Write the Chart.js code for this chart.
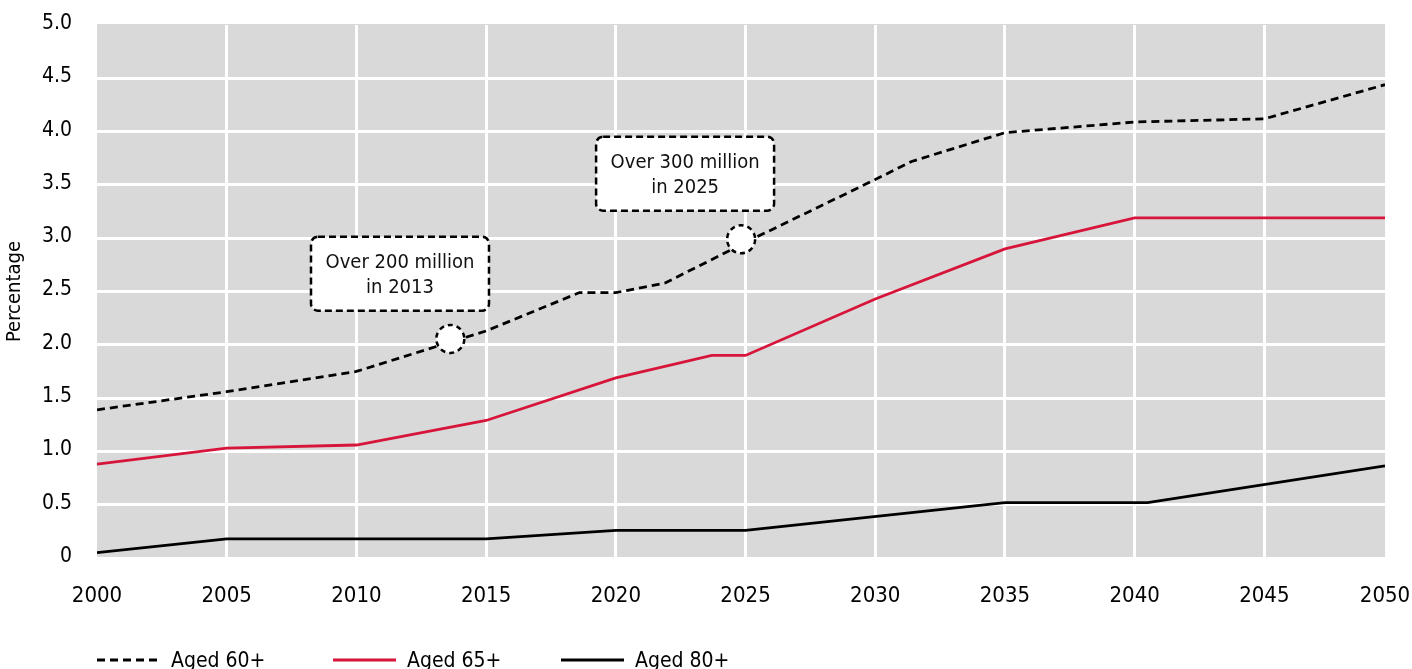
<!DOCTYPE html>
<html>
<head>
<meta charset="utf-8">
<script src="https://cdn.jsdelivr.net/npm/chart.js@4"></script>
<style>
  html, body { margin: 0; padding: 0; background: #fff; }
</style>
</head>
<body>
<canvas id="chart" width="1412" height="669"></canvas>
<script>
const FONT = "'DejaVu Sans Condensed', 'Liberation Sans Narrow', sans-serif";

// series (year, percentage)
const years60 = [2000, 2005, 2010, 2015, 2018.6, 2020, 2021.9, 2025.5, 2030, 2031.4, 2035, 2040, 2045, 2049.65];
const aged60  = [1.39, 1.56, 1.75, 2.13, 2.49, 2.49, 2.58, 3.02, 3.55, 3.72, 3.99, 4.09, 4.12, 4.44];
const years65 = [2000, 2005, 2010, 2015, 2020, 2023.7, 2025, 2030, 2035, 2040, 2049.65];
const aged65  = [0.88, 1.03, 1.06, 1.29, 1.69, 1.9, 1.9, 2.43, 2.9, 3.19, 3.19];
const years80 = [2000, 2005, 2015, 2020, 2025, 2035, 2040.5, 2049.65];
const aged80  = [0.05, 0.18, 0.18, 0.26, 0.26, 0.52, 0.52, 0.865];

const seriesNames = ['Aged 60+', 'Aged 65+', 'Aged 80+'];

const xTicks = [2000, 2005, 2010, 2015, 2020, 2025, 2030, 2035, 2040, 2045, 2049.65];
const xTickLabels = ['2000', '2005', '2010', '2015', '2020', '2025', '2030', '2035', '2040', '2045', '2050'];
const yTicks = [0, 0.5, 1, 1.5, 2, 2.5, 3, 3.5, 4, 4.5, 5];
const yTickLabels = ['0', '0.5', '1.0', '1.5', '2.0', '2.5', '3.0', '3.5', '4.0', '4.5', '5.0'];

// callouts on the 60+ line
const notes = [
  { text: ['Over 200 million', 'in 2013'], x: 2013.62, y: 2.055, boxX: 2011.68, boxY: 2.667 },
  { text: ['Over 300 million', 'in 2025'], x: 2024.83, y: 2.99, boxX: 2022.67, boxY: 3.605 }
];

const pts = (xs, ys) => xs.map((x, i) => ({ x: x, y: ys[i] }));

const plotBg = {
  id: 'plotBg',
  beforeDraw(chart) {
    const { ctx, chartArea: a } = chart;
    ctx.save();
    ctx.fillStyle = '#d9d9d9';
    ctx.fillRect(a.left, a.top - 1, a.right - a.left, a.bottom - a.top);
    ctx.restore();
  }
};

const notesPlugin = {
  id: 'notes',
  afterDatasetsDraw(chart) {
    const { ctx, scales: { x, y } } = chart;
    notes.forEach(n => {
      const cx = x.getPixelForValue(n.x), cy = y.getPixelForValue(n.y);
      ctx.save();
      ctx.lineWidth = 2.5;
      ctx.strokeStyle = '#000';
      ctx.fillStyle = '#fff';
      ctx.setLineDash([5, 4]);
      ctx.beginPath();
      ctx.arc(cx, cy, 14, 0, Math.PI * 2);
      ctx.fill();
      ctx.stroke();

      const bx = x.getPixelForValue(n.boxX), by = y.getPixelForValue(n.boxY);
      const w = 178, h = 74;
      ctx.setLineDash([7, 4]);
      ctx.beginPath();
      ctx.roundRect(bx - w / 2, by - h / 2, w, h, 7);
      ctx.fill();
      ctx.stroke();
      ctx.setLineDash([]);
      ctx.fillStyle = '#111';
      ctx.font = '20px ' + FONT;
      ctx.textAlign = 'center';
      ctx.textBaseline = 'middle';
      n.text.forEach((t, k) => ctx.fillText(t, bx, by - 11 + k * 25));
      ctx.restore();
    });
  }
};

const bottomLegend = {
  id: 'bottomLegend',
  afterDraw(chart) {
    const ctx = chart.ctx;
    const starts = [97, 333, 561];
    chart.data.datasets.forEach((ds, i) => {
      const x = starts[i], y = 660;
      ctx.save();
      ctx.strokeStyle = ds.borderColor;
      ctx.lineWidth = ds.borderWidth;
      ctx.setLineDash(ds.borderDash || []);
      ctx.beginPath();
      ctx.moveTo(x, y);
      ctx.lineTo(x + 63, y);
      ctx.stroke();
      ctx.setLineDash([]);
      ctx.fillStyle = '#000';
      ctx.font = '21px ' + FONT;
      ctx.textBaseline = 'alphabetic';
      ctx.fillText(ds.label, x + 74, 667);
      ctx.restore();
    });
  }
};

const edgeless = (n) => (c) => (c.index === 0 || c.index === n - 1) ? 'rgba(0,0,0,0)' : '#ffffff';

new Chart(document.getElementById('chart'), {
  type: 'line',
  data: {
    datasets: [
      { label: seriesNames[0], data: pts(years60, aged60), borderColor: '#000000', borderWidth: 2.8, borderDash: [8, 5] },
      { label: seriesNames[1], data: pts(years65, aged65), borderColor: '#d7153a', borderWidth: 2.8 },
      { label: seriesNames[2], data: pts(years80, aged80), borderColor: '#000000', borderWidth: 2.8 }
    ]
  },
  options: {
    responsive: false,
    animation: false,
    elements: { point: { radius: 0 }, line: { tension: 0, fill: false } },
    layout: { padding: { top: 25, right: 27, bottom: 0, left: 0 } },
    plugins: { legend: { display: false }, tooltip: { enabled: false } },
    scales: {
      x: {
        type: 'linear',
        min: 2000,
        max: 2049.65,
        afterBuildTicks: s => { s.ticks = xTicks.map(v => ({ value: v })); },
        afterFit: s => { s.height = 111; s.paddingLeft = 0; s.paddingRight = 0; },
        grid: { color: edgeless(xTicks.length), lineWidth: 3, drawTicks: false },
        border: { display: false },
        ticks: {
          callback: (v, i) => xTickLabels[i],
          autoSkip: false, maxRotation: 0, padding: 25,
          color: '#000', font: { family: FONT, size: 22 }
        }
      },
      y: {
        min: 0,
        max: 5,
        afterBuildTicks: s => { s.ticks = yTicks.map(v => ({ value: v })); },
        afterFit: s => { s.width = 97; s.paddingTop = 0; s.paddingBottom = 0; },
        grid: { color: edgeless(yTicks.length), lineWidth: 3, drawTicks: false },
        border: { display: false },
        ticks: {
          callback: (v, i) => yTickLabels[i],
          padding: 25, labelOffset: -1.5,
          color: '#000', font: { family: FONT, size: 21 }
        },
        title: {
          display: true, text: 'Percentage', color: '#000',
          font: { family: FONT, size: 20 }, padding: { top: 3, bottom: 0 }
        }
      }
    }
  },
  plugins: [plotBg, notesPlugin, bottomLegend]
});
</script>
</body>
</html>
